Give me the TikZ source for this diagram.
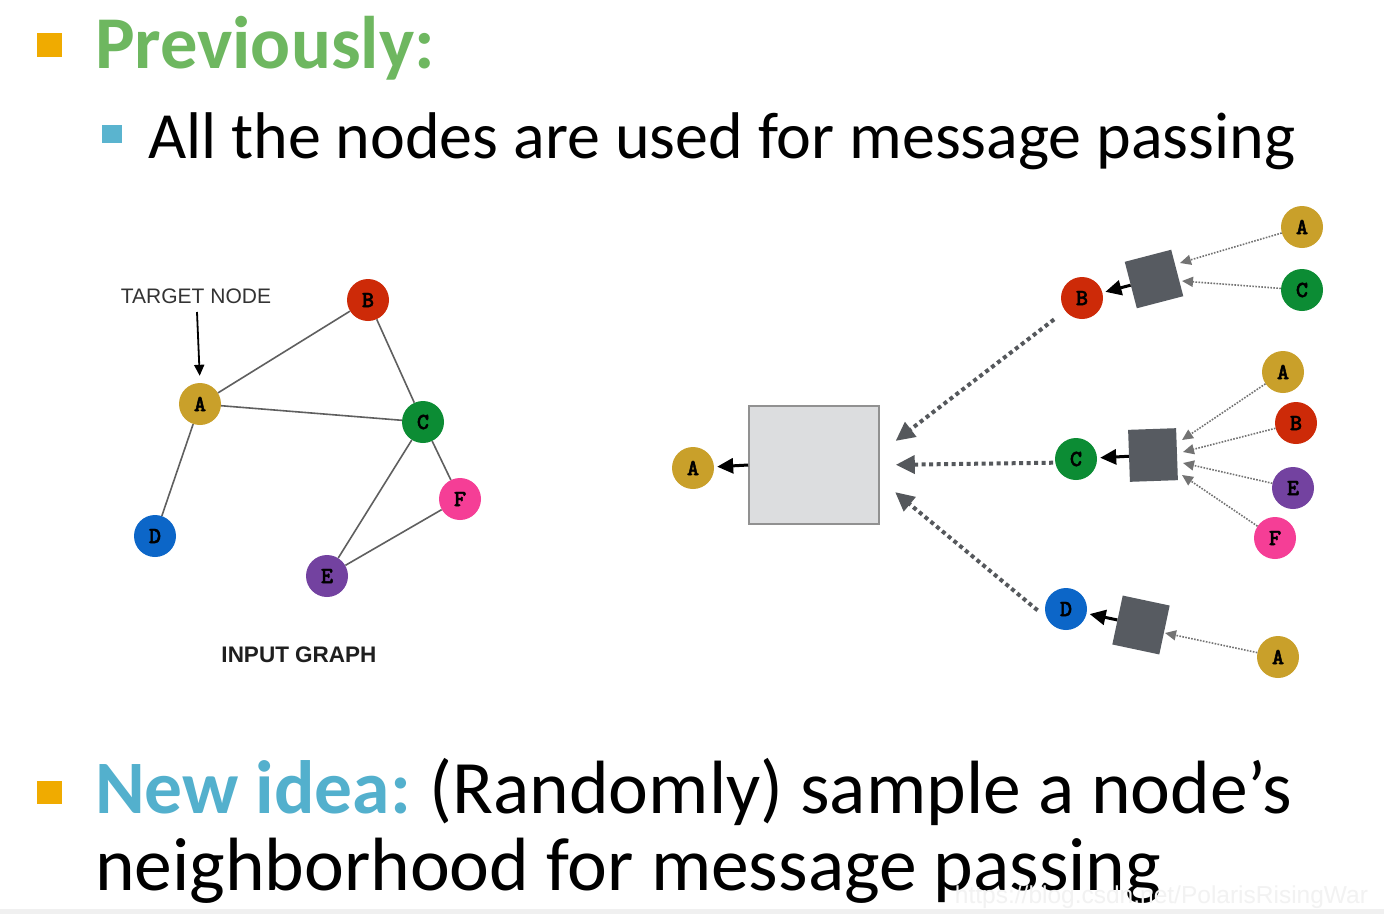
\documentclass[tikz,border=0pt]{standalone}
\usepackage{fontspec}
\setmainfont{Carlito}
\newfontfamily\helv{Liberation Sans}
\newfontfamily\monob{lmmonolt10-bold.otf}[FakeBold=2]
\usetikzlibrary{arrows.meta,calc}
\definecolor{bulor}{RGB}{240,171,0}
\definecolor{bulbl}{RGB}{90,180,207}
\definecolor{titlegreen}{RGB}{110,183,96}
\definecolor{ideablue}{RGB}{83,176,205}
\definecolor{colA}{RGB}{201,160,42}
\definecolor{colB}{RGB}{205,42,8}
\definecolor{colC}{RGB}{12,140,52}
\definecolor{colD}{RGB}{12,102,200}
\definecolor{colE}{RGB}{115,66,160}
\definecolor{colF}{RGB}{245,62,150}
\definecolor{aggcol}{RGB}{87,91,97}
\definecolor{boxfill}{RGB}{220,221,223}
\definecolor{boxline}{RGB}{145,145,145}
\definecolor{edgecol}{RGB}{95,95,95}
\definecolor{dotcol}{RGB}{85,88,92}
\definecolor{sdotcol}{RGB}{115,115,115}
\tikzset{
  txt/.style={inner sep=0pt, outer sep=0pt, anchor=base west},
  gnode/.style={circle, minimum size=42pt, inner sep=0pt, font=\monob\fontsize{23}{23}\selectfont},
  gedge/.style={draw=edgecol, line width=1.6pt},
  aggsq/.style={rectangle, fill=aggcol, inner sep=0pt, minimum width=48pt, minimum height=50pt},
  bdot/.style={draw=dotcol, line width=4pt, dash pattern=on 4pt off 3.5pt, -{Triangle[length=19pt,width=18pt,fill=dotcol]}},
  sdot/.style={draw=sdotcol, line width=1.6pt, dash pattern=on 1.6pt off 1.4pt, -{Triangle[length=11pt,width=10pt,fill=sdotcol]}},
  barrow/.style={draw=black, line width=3pt, -{Triangle[length=16pt,width=15pt]}, shorten >=3pt},
}
\begin{document}
\begin{tikzpicture}[x=1pt,y=-1pt]
\useasboundingbox (0,0) rectangle (1384,914);
\fill[white] (0,0) rectangle (1384,914);
\fill[black!6] (0,909) rectangle (1384,914);
% bullets and text
\fill[bulor] (37,33) rectangle (62,57);
\fill[bulbl] (102,125) rectangle (122,143);
\fill[bulor] (37,781) rectangle (62,804);
\node[txt] (title) at (95,68) {\fontsize{74.5}{90}\selectfont\bfseries\color{titlegreen}Previously:};
\node[txt] (sub) at (148,158) {\fontsize{66}{80}\selectfont All the nodes are used for message passing};
\node[txt] (new1) at (95,813) {\fontsize{75.5}{90}\selectfont{\bfseries\color{ideablue}New idea:}\hspace{-4pt} (Randomly) sample a node’s};
\node[txt] (new2) at (95,890) {\fontsize{75.5}{90}\selectfont neighborhood for message passing};
\node[txt, anchor=base east] (wm) at (1368,903) {\helv\fontsize{24.5}{30}\selectfont\color{black!5}https://blog.csdn.net/PolarisRisingWar};
% input graph
\node[gnode, fill=colB] (gB) at (368,300) {B};
\node[gnode, fill=colA] (gA) at (200,404) {A};
\node[gnode, fill=colC] (gC) at (423,422) {C};
\node[gnode, fill=colF] (gF) at (460,499) {F};
\node[gnode, fill=colD] (gD) at (155,536) {D};
\node[gnode, fill=colE] (gE) at (327,576) {E};
\draw[gedge] (gA) -- (gB);
\draw[gedge] (gA) -- (gC);
\draw[gedge] (gB) -- (gC);
\draw[gedge] (gA) -- (gD);
\draw[gedge] (gC) -- (gE);
\draw[gedge] (gC) -- (gF);
\draw[gedge] (gE) -- (gF);
\node[txt, anchor=base] (target) at (196,303) {\helv\fontsize{21}{24}\selectfont\color{black!80}TARGET NODE};
\coordinate (tgtS) at (197,312);
\draw[black, line width=1.8pt, -{Triangle[length=11pt,width=10pt]}, shorten >=7pt] (tgtS) -- (gA.north);
\node[txt, anchor=base] (inlabel) at (299,662) {\helv\bfseries\fontsize{22.5}{26}\selectfont\color{black!88}INPUT GRAPH};
% computation graph
\node[gnode, fill=colA] (rA) at (693,468) {A};
\node[rectangle, draw=boxline, line width=1.6pt, fill=boxfill, minimum width=130pt, minimum height=118pt, inner sep=0pt] (box) at (814,465) {};
\draw[barrow] (box.west) -- (rA);
\node[gnode, fill=colB] (B2) at (1082,298) {B};
\node[gnode, fill=colC] (C2) at (1076,459) {C};
\node[gnode, fill=colD] (D2) at (1066,609) {D};
\coordinate (pB) at ($(box.north east)!0.4!(box.south east)$);
\coordinate (pC) at (box.east);
\coordinate (pD) at ($(box.north east)!0.62!(box.south east)$);
\draw[bdot, shorten <=14pt, shorten >=20pt] (B2) -- (pB);
\draw[bdot, shorten <=2pt, shorten >=16pt] (C2.190) -- (pC);
\draw[bdot, shorten <=12pt, shorten >=20pt] (D2.205) -- (pD);
% B branch
\node[aggsq, rotate=14.6, minimum height=48pt] (sqB) at (1154,279) {};
\node[gnode, fill=colA] (bA) at (1302,227) {A};
\node[gnode, fill=colC] (bC) at (1302,290) {C};
\coordinate (tbA) at (1180,263);
\coordinate (tbC) at (1182,281);
\draw[sdot] (bA) -- (tbA);
\draw[sdot] (bC) -- (tbC);
\draw[barrow] (sqB) -- (B2);
% C branch
\node[aggsq, rotate=2, minimum height=52pt] (sqC) at (1153,455) {};
\node[gnode, fill=colA] (cA) at (1283,372) {A};
\node[gnode, fill=colB] (cB) at (1296,423) {B};
\node[gnode, fill=colE] (cE) at (1293,488) {E};
\node[gnode, fill=colF] (cF) at (1275,538) {F};
\coordinate (tcA) at (1182,440);
\coordinate (tcB) at (1183,452);
\coordinate (tcE) at (1183,463);
\coordinate (tcF) at (1182,475);
\draw[sdot] (cA) -- (tcA);
\draw[sdot] (cB) -- (tcB);
\draw[sdot] (cE) -- (tcE);
\draw[sdot] (cF) -- (tcF);
\draw[barrow] (sqC) -- (C2);
% D branch
\node[aggsq, rotate=-12] (sqD) at (1141,625) {};
\node[gnode, fill=colA] (dA) at (1278,657) {A};
\coordinate (tdA) at (1165,633);
\draw[sdot] (dA) -- (tdA);
\draw[barrow] (sqD) -- (D2);
\end{tikzpicture}
\end{document}
